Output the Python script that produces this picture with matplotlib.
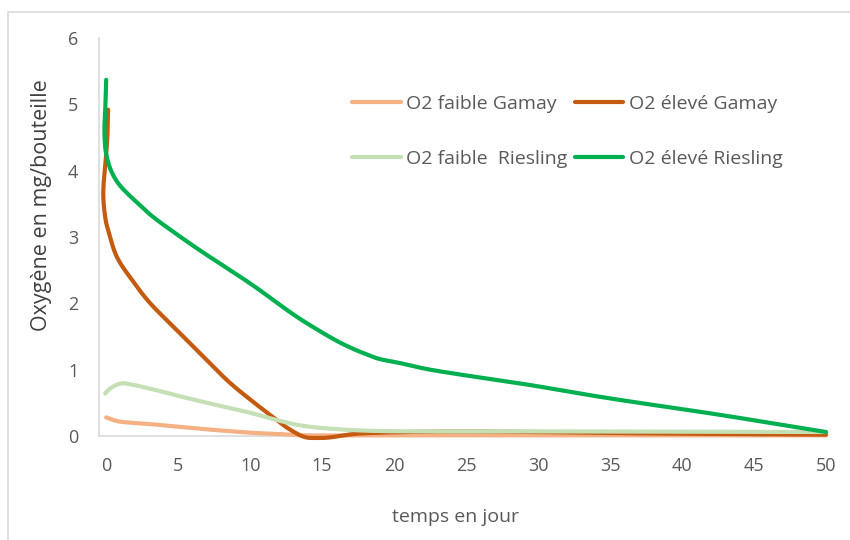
import matplotlib
matplotlib.use('Agg')
import matplotlib.pyplot as plt
import matplotlib.patches as pat
import numpy as np

# values (day, mg O2 per bottle)
faible_gamay_x = [0.0, 0.5, 1.2, 3.0, 5.0, 7.0, 10.0, 12.0, 14.0, 20.0, 30.0, 40.0, 50.0]
faible_gamay_y = [0.28, 0.24, 0.21, 0.18, 0.14, 0.10, 0.05, 0.03, 0.01, 0.01, 0.01, 0.01, 0.01]

eleve_gamay_x = [0.13, 0.1, 0.0, -0.15, -0.2, -0.07, 0.14, 0.74, 1.8, 3.06, 4.8, 6.5, 8.4,
                 10.0, 11.85, 12.6, 13.7, 14.6, 15.6, 17.2, 19.0, 22.0, 25.0, 30.0, 35.0, 40.0, 50.0]
eleve_gamay_y = [4.92, 4.6, 4.25, 3.9, 3.6, 3.3, 3.1, 2.7, 2.35, 2.0, 1.62, 1.25, 0.84,
                 0.55, 0.24, 0.12, -0.01, -0.03, -0.02, 0.03, 0.05, 0.065, 0.07, 0.06, 0.045, 0.035, 0.02]

faible_riesling_x = [-0.07, 0.3, 0.97, 1.67, 3.5, 5.1, 7.0, 10.0, 11.85, 13.5, 15.6, 19.0, 25.0, 30.0, 40.0, 50.0]
faible_riesling_y = [0.64, 0.72, 0.79, 0.78, 0.69, 0.60, 0.50, 0.35, 0.24, 0.16, 0.11, 0.075, 0.07, 0.07, 0.065, 0.06]

eleve_riesling_x = [0.0, -0.05, -0.12, -0.1, 0.0, 0.3, 0.8, 1.5, 2.4, 3.1, 4.2, 6.5, 10.0, 12.1,
                    13.5, 15.0, 15.8, 16.5, 17.3, 18.1, 19.0, 20.4, 22.5, 26.0, 29.4, 32.9, 36.4, 42.6, 50.0]
eleve_riesling_y = [5.37, 5.0, 4.7, 4.45, 4.25, 4.02, 3.82, 3.65, 3.47, 3.33, 3.15, 2.8, 2.3, 1.97,
                    1.76, 1.56, 1.46, 1.38, 1.30, 1.23, 1.16, 1.10, 1.0, 0.88, 0.77, 0.64, 0.52, 0.32, 0.06]

xticks = [0, 5, 10, 15, 20, 25, 30, 35, 40, 45, 50]
yticks = [0, 1, 2, 3, 4, 5, 6]


def smooth(xs, ys, n=16):
    # Catmull-Rom curve through the points, like Excel's smoothed line
    p = np.column_stack([xs, ys]).astype(float)
    p = np.vstack([2 * p[0] - p[1], p, 2 * p[-1] - p[-2]])
    t = np.linspace(0, 1, n, endpoint=False)[:, None]
    out = []
    for i in range(1, len(p) - 2):
        p0, p1, p2, p3 = p[i - 1], p[i], p[i + 1], p[i + 2]
        seg = 0.5 * ((2 * p1) + (-p0 + p2) * t + (2 * p0 - 5 * p1 + 4 * p2 - p3) * t ** 2
                     + (-p0 + 3 * p1 - 3 * p2 + p3) * t ** 3)
        out.append(seg)
    out.append(p[-2][None, :])
    out = np.vstack(out)
    return out[:, 0], out[:, 1]


W, H = 850, 540
fig = plt.figure(figsize=(W / 100, H / 100), dpi=100)
plt.rcParams['font.family'] = ['Open Sans', 'DejaVu Sans']

# chart area border
fig.patches.append(pat.Rectangle((8 / W, -0.01), 1.0, 1 - 12 / H + 0.01, transform=fig.transFigure,
                                 fill=False, edgecolor='#D9D9D9', linewidth=1.2))

ax = fig.add_axes([99 / W, 1 - 436 / H, (826 - 99) / W, (436 - 38) / H])

series = [
    (faible_gamay_x, faible_gamay_y, '#F4B183', 'O2 faible Gamay'),
    (eleve_gamay_x, eleve_gamay_y, '#C55A11', 'O2 élevé Gamay'),
    (faible_riesling_x, faible_riesling_y, '#C5E0B4', 'O2 faible  Riesling'),
    (eleve_riesling_x, eleve_riesling_y, '#00B050', 'O2 élevé Riesling'),
]
lines = []
for xs, ys, c, lab in series:
    sx, sy = smooth(xs, ys)
    ln, = ax.plot(sx, sy, color=c, lw=3, solid_capstyle='round', label=lab, clip_on=False)
    lines.append(ln)

ax.set_xlim(-0.5, 50)
ax.set_ylim(0, 6)
ax.set_xticks(xticks)
ax.set_yticks(yticks)
ax.tick_params(length=0, colors='#595959', labelsize=13)
ax.tick_params(axis='x', pad=15)
ax.tick_params(axis='y', pad=15)
for s in ['top', 'right']:
    ax.spines[s].set_visible(False)
for s in ['left', 'bottom']:
    ax.spines[s].set_color('#D9D9D9')
    ax.spines[s].set_linewidth(1.2)
    ax.spines[s].set_zorder(0)

ax.set_xlabel('temps en jour', fontsize=14, color='#595959')
ax.xaxis.set_label_coords((456 - 99) / (826 - 99), -(517 - 436) / (436 - 38), transform=ax.transAxes)
ax.set_ylabel('Oxygène en mg/bouteille', fontsize=15.5, color='#404040')
ax.yaxis.set_label_coords(-(99 - 42) / (826 - 99), (436 - 205) / (436 - 38), transform=ax.transAxes)
ax.yaxis.label.set_va('center')
ax.xaxis.label.set_va('center')

l1, l2, l3, l4 = lines
leg = ax.legend(handles=[l1, l3, l2, l4], ncol=2, frameon=False, fontsize=14,
                loc='upper left', bbox_to_anchor=(352 / W, 1 - 95 / H), bbox_transform=fig.transFigure,
                handlelength=2.5, handletextpad=0.3, labelspacing=1.9, columnspacing=0.35,
                borderaxespad=0, borderpad=0)
for t in leg.get_texts():
    t.set_color('#595959')

fig.savefig('out.png', dpi=100)
